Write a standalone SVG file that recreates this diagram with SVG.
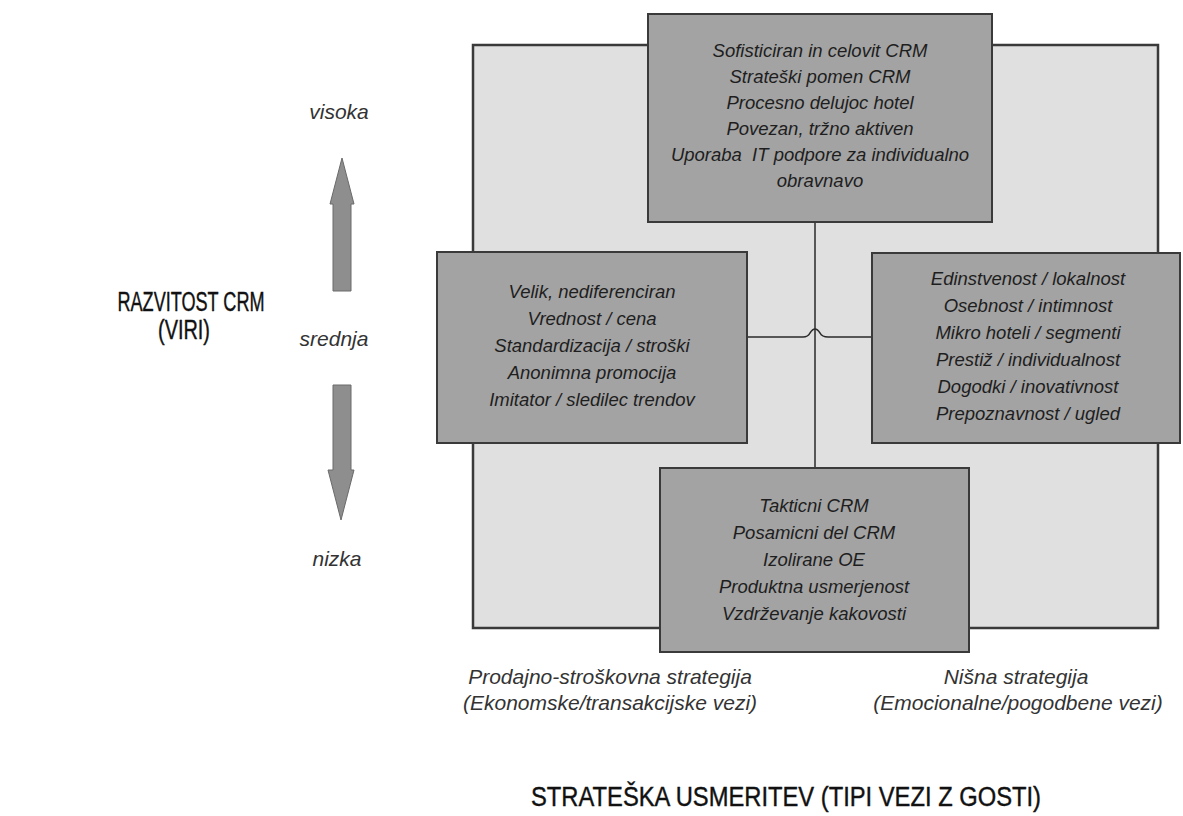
<svg xmlns="http://www.w3.org/2000/svg" width="1183" height="816" viewBox="0 0 1183 816">
<style>
.box{fill:#a3a3a3;stroke:#3a3a3a;stroke-width:2}
.frame{fill:#e0e0e0;stroke:#3a3a3a;stroke-width:2.5}
.bt{font-family:"Liberation Sans",Arial,sans-serif;font-style:italic;font-size:18.5px;fill:#1e1e1e;text-anchor:middle}
.lvl{font-family:"Liberation Sans",Arial,sans-serif;font-style:italic;font-size:21px;fill:#333;text-anchor:middle}
.axis{font-family:"Liberation Sans",Arial,sans-serif;font-size:27px;fill:#111;text-anchor:middle;stroke:#111;stroke-width:0.4}
.conn{fill:none;stroke:#2a2a2a;stroke-width:1.5}
.arr{fill:#8e8e8e;stroke:#6a6a6a;stroke-width:1}
</style>
<rect width="1183" height="816" fill="#ffffff"/>
<g id="frame"><rect class="frame" x="473" y="45" width="685" height="583"/></g>
<g id="connectors">
<line class="conn" x1="815" y1="222" x2="815" y2="468"/>
<path class="conn" d="M747,337 H803 Q808,337 810,333 Q815,325 820,333 Q822,337 828,337 H872"/>
</g>
<g id="node-top">
<rect class="box" x="648" y="14" width="344" height="208"/>
<text class="bt" x="820" y="57">Sofisticiran in celovit CRM</text>
<text class="bt" x="820" y="83">Strateški pomen CRM</text>
<text class="bt" x="820" y="109">Procesno delujoc hotel</text>
<text class="bt" x="820" y="135">Povezan, tržno aktiven</text>
<text class="bt" x="820" y="161" xml:space="preserve">Uporaba  IT podpore za individualno</text>
<text class="bt" x="820" y="187">obravnavo</text>
</g>
<g id="node-left">
<rect class="box" x="437" y="252" width="310" height="191"/>
<text class="bt" x="592" y="298">Velik, nediferenciran</text>
<text class="bt" x="592" y="325">Vrednost / cena</text>
<text class="bt" x="592" y="352">Standardizacija / stroški</text>
<text class="bt" x="592" y="379">Anonimna promocija</text>
<text class="bt" x="592" y="406">Imitator / sledilec trendov</text>
</g>
<g id="node-right">
<rect class="box" x="872" y="253" width="308" height="190"/>
<text class="bt" x="1028" y="285">Edinstvenost / lokalnost</text>
<text class="bt" x="1028" y="312">Osebnost / intimnost</text>
<text class="bt" x="1028" y="339">Mikro hoteli / segmenti</text>
<text class="bt" x="1028" y="366">Prestiž / individualnost</text>
<text class="bt" x="1028" y="393">Dogodki / inovativnost</text>
<text class="bt" x="1028" y="420">Prepoznavnost / ugled</text>
</g>
<g id="node-bottom">
<rect class="box" x="660" y="468" width="309" height="184"/>
<text class="bt" x="814" y="512">Takticni CRM</text>
<text class="bt" x="814" y="539">Posamicni del CRM</text>
<text class="bt" x="814" y="566">Izolirane OE</text>
<text class="bt" x="814" y="593">Produktna usmerjenost</text>
<text class="bt" x="814" y="620">Vzdrževanje kakovosti</text>
</g>
<g id="arrows">
<path class="arr" d="M342,158 L354,204 L351,204 L351,291 L333,291 L333,204 L330,204 Z"/>
<path class="arr" d="M333,385 L351,385 L351,470 L354,470 L341,520 L328,470 L333,470 Z"/>
</g>
<g id="levels">
<text class="lvl" x="339" y="119">visoka</text>
<text class="lvl" x="334" y="346">srednja</text>
<text class="lvl" x="337" y="566">nizka</text>
</g>
<g id="axis-y">
<text class="axis" x="191" y="311" textLength="147" lengthAdjust="spacingAndGlyphs">RAZVITOST CRM</text>
<text class="axis" x="184" y="339" textLength="52" lengthAdjust="spacingAndGlyphs">(VIRI)</text>
</g>
<g id="axis-x">
<text class="lvl" x="610" y="684">Prodajno-stroškovna strategija</text>
<text class="lvl" x="610" y="710">(Ekonomske/transakcijske vezi)</text>
<text class="lvl" x="1016" y="684">Nišna strategija</text>
<text class="lvl" x="1018" y="710">(Emocionalne/pogodbene vezi)</text>
<text class="axis" x="786" y="806" textLength="510" lengthAdjust="spacingAndGlyphs">STRATEŠKA USMERITEV (TIPI VEZI Z GOSTI)</text>
</g>
</svg>
